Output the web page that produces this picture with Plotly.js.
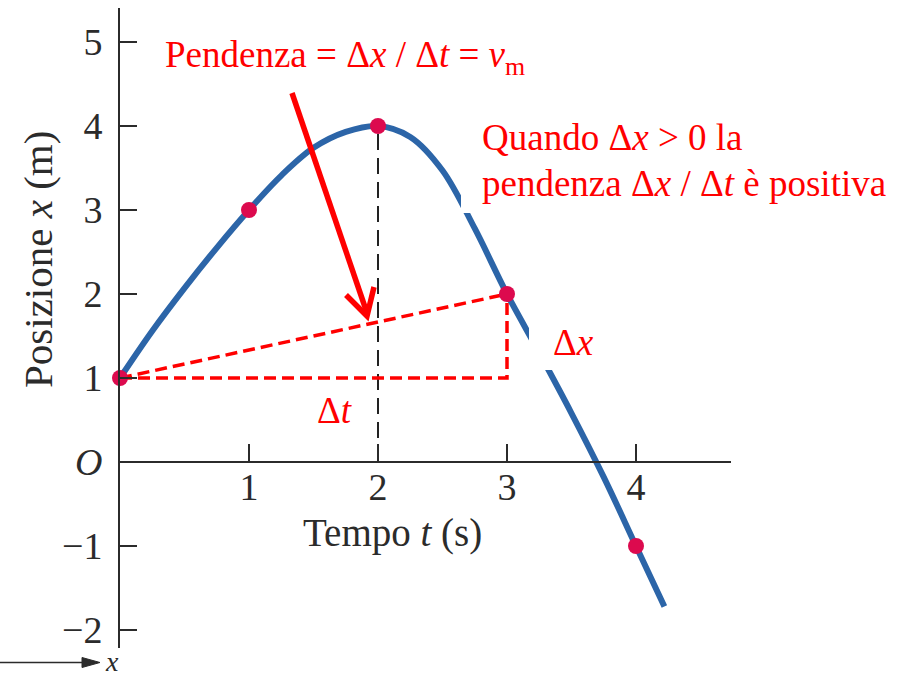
<!DOCTYPE html>
<html>
<head>
<meta charset="utf-8">
<script src="https://cdn.plot.ly/plotly-3.0.1.min.js"></script>
<style>
  html, body { margin: 0; padding: 0; background: #fff; }
  #chart { width: 898px; height: 676px; }
</style>
</head>
<body>
<div id="chart"></div>
<script>
// Position–time curve x(t), sampled every quarter second
const curveT = [0, 0.25, 0.5, 0.75, 1, 1.25, 1.5, 1.75, 2, 2.25, 2.5, 2.75, 3, 3.25, 3.5, 3.75, 4, 4.22];
const curveX = [1, 1.56, 2.07, 2.55, 3, 3.41, 3.74, 3.93, 4, 3.87, 3.47, 2.78, 2, 1.3, 0.58, -0.18, -1, -1.72];

// Marked instants on the curve
const pointT = [0, 1, 2, 3, 4];
const pointX = [1, 3, 4, 2, -1];

// Axis ticks
const xTickVals = [1, 2, 3, 4];
const xTickText = ['1', '2', '3', '4'];
const yTickVals = [-2, -1, 0, 1, 2, 3, 4, 5];
const yTickText = ['\u22122', '\u22121', '<i>O</i>', '1', '2', '3', '4', '5'];

// Text
const titleX = 'Tempo <i>t</i> (s)';
const titleY = 'Posizione <i>x</i> (m)';
const labelSlope = 'Pendenza = \u0394<i>x</i> / \u0394<i>t</i> = <i>v</i><sub>m</sub>';
const labelNote1 = 'Quando \u0394<i>x</i> &gt; 0 la';
const labelNote2 = 'pendenza \u0394<i>x</i> / \u0394<i>t</i> è positiva';
const labelDx = '\u0394<i>x</i>';
const labelDt = '\u0394<i>t</i>';

const W = 898, H = 676;
const fx = p => p / W;          // pixel -> paper x
const fy = p => 1 - p / H;      // pixel -> paper y

const SERIF = '"Liberation Serif", "Times New Roman", serif';
const RED = '#ff0000';
const INK = '#2b2b2b';

// Secant and right triangle between the first and fourth marked instants
const i0 = 0, i1 = 3;
const secantT = [pointT[i0], pointT[i1]];
const secantX = [pointX[i0], pointX[i1]];
const triT = [pointT[i0], pointT[i1], pointT[i1]];
const triX = [pointX[i0], pointX[i0], pointX[i1]];

// Vertical guide from the maximum down to the time axis
const iMax = pointX.indexOf(Math.max(...pointX));
const guideT = [pointT[iMax], pointT[iMax]];
const guideX = [0, pointX[iMax]];

const traces = [
  {
    x: curveT, y: curveX, type: 'scatter', mode: 'lines',
    line: { color: '#2c65a8', width: 6, shape: 'spline', smoothing: 1 },
    hoverinfo: 'skip', cliponaxis: false
  },
  {
    x: guideT, y: guideX, type: 'scatter', mode: 'lines',
    line: { color: '#222', width: 2, dash: '16px,8px' },
    hoverinfo: 'skip'
  },
  {
    x: secantT, y: secantX, type: 'scatter', mode: 'lines',
    line: { color: RED, width: 3.5, dash: '12px,6px' },
    hoverinfo: 'skip', cliponaxis: false
  },
  {
    x: triT, y: triX, type: 'scatter', mode: 'lines',
    line: { color: RED, width: 3.5, dash: '12px,6px' },
    hoverinfo: 'skip', cliponaxis: false
  },
  {
    x: pointT, y: pointX, type: 'scatter', mode: 'markers',
    marker: { color: '#dc0a4e', size: 16 },
    hoverinfo: 'skip', cliponaxis: false
  }
];

const tickFont = { family: SERIF, size: 38, color: INK };

const layout = {
  width: W, height: H,
  margin: { l: 0, r: 0, t: 0, b: 0 },
  paper_bgcolor: '#fff', plot_bgcolor: 'rgba(0,0,0,0)',
  showlegend: false,
  xaxis: {
    domain: [fx(120), fx(731)],
    range: [0, 611 / 129],
    anchor: 'free', position: fy(462),
    showline: true, linecolor: INK, linewidth: 2,
    showgrid: false, zeroline: false,
    ticks: 'inside', ticklen: 17, tickwidth: 2, tickcolor: INK,
    tickvals: xTickVals, ticktext: xTickText,
    tickfont: tickFont, ticklabelstandoff: -9
  },
  yaxis: {
    domain: [fy(648), fy(8)],
    range: [-(648 - 462) / 84, (462 - 8) / 84],
    anchor: 'x',
    showline: true, linecolor: INK, linewidth: 2,
    showgrid: false, zeroline: false,
    ticks: 'inside', ticklen: 17, tickwidth: 2, tickcolor: INK,
    tickvals: yTickVals, ticktext: yTickText,
    tickfont: tickFont, ticklabelstandoff: 8
  },
  shapes: [
    // white backing behind the note and the Δx label
    { type: 'rect', xref: 'paper', yref: 'paper', layer: 'above',
      x0: fx(461), x1: fx(898), y0: fy(213), y1: fy(100),
      fillcolor: '#fff', line: { width: 0 } },
    { type: 'rect', xref: 'paper', yref: 'paper', layer: 'above',
      x0: fx(529), x1: fx(600), y0: fy(370), y1: fy(327),
      fillcolor: '#fff', line: { width: 0 } },
    // red pointer towards the secant
    { type: 'path', xref: 'paper', yref: 'paper', layer: 'above',
      path: `M ${fx(292)} ${fy(93)} L ${fx(367)} ${fy(313)}`,
      line: { color: RED, width: 5.5 } },
    { type: 'path', xref: 'paper', yref: 'paper', layer: 'above',
      path: `M ${fx(346)} ${fy(295)} L ${fx(367)} ${fy(316)} L ${fx(374)} ${fy(287)}`,
      line: { color: RED, width: 5.5 } },
    // small x direction arrow at the bottom left
    { type: 'line', xref: 'paper', yref: 'paper',
      x0: fx(0), x1: fx(90), y0: fy(662.5), y1: fy(662.5),
      line: { color: INK, width: 1.5 } },
    { type: 'path', xref: 'paper', yref: 'paper',
      path: `M ${fx(82)} ${fy(657.5)} L ${fx(100)} ${fy(662.5)} L ${fx(82)} ${fy(667.5)} Z`,
      fillcolor: INK, line: { color: INK, width: 1 } }
  ],
  annotations: [
    { xref: 'paper', yref: 'paper', x: fx(392), y: fy(533),
      xanchor: 'center', yanchor: 'middle', showarrow: false,
      text: titleX, font: { family: SERIF, size: 39, color: INK } },
    { xref: 'paper', yref: 'paper', x: fx(38), y: fy(260),
      xanchor: 'center', yanchor: 'middle', showarrow: false, textangle: -90,
      text: titleY, font: { family: SERIF, size: 41, color: INK } },
    { xref: 'paper', yref: 'paper', x: fx(163), y: fy(58),
      xanchor: 'left', yanchor: 'middle', showarrow: false,
      text: labelSlope, font: { family: SERIF, size: 37, color: RED } },
    { xref: 'paper', yref: 'paper', x: fx(480), y: fy(137),
      xanchor: 'left', yanchor: 'middle', showarrow: false,
      text: labelNote1, font: { family: SERIF, size: 37, color: RED } },
    { xref: 'paper', yref: 'paper', x: fx(480), y: fy(183),
      xanchor: 'left', yanchor: 'middle', showarrow: false,
      text: labelNote2, font: { family: SERIF, size: 37, color: RED } },
    { xref: 'paper', yref: 'paper', x: fx(551), y: fy(342),
      xanchor: 'left', yanchor: 'middle', showarrow: false,
      text: labelDx, font: { family: SERIF, size: 37, color: RED } },
    { xref: 'paper', yref: 'paper', x: fx(315), y: fy(410),
      xanchor: 'left', yanchor: 'middle', showarrow: false,
      text: labelDt, font: { family: SERIF, size: 37, color: RED } },
    { xref: 'paper', yref: 'paper', x: fx(103), y: fy(661),
      xanchor: 'left', yanchor: 'middle', showarrow: false,
      text: '<i>x</i>', font: { family: SERIF, size: 28, color: INK } }
  ]
};

Plotly.newPlot('chart', traces, layout, { staticPlot: true, displayModeBar: false });
</script>
</body>
</html>
